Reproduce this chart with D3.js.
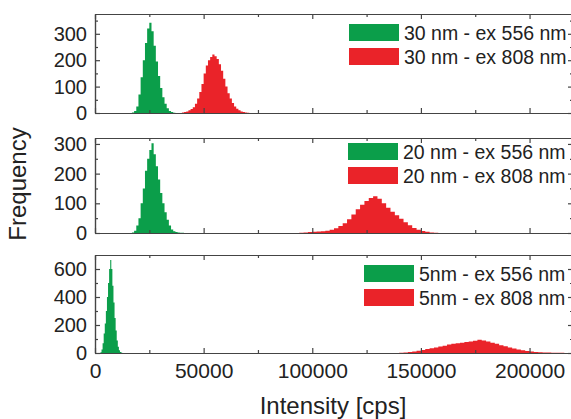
<!DOCTYPE html>
<html>
<head>
<meta charset="utf-8">
<script src="https://cdn.jsdelivr.net/npm/d3@7"></script>
<style>
body { margin: 0; background: white; }
</style>
</head>
<body>
<div id="caja"></div>
<script>
// datos: histogramas de intensidad por tamaño de particula
var tamanos = ["30 nm", "20 nm", "5nm"];
var etiquetas556 = ["30 nm - ex 556 nm", "20 nm - ex 556 nm", "5nm - ex 556 nm"];
var etiquetas808 = ["30 nm - ex 808 nm", "20 nm - ex 808 nm", "5nm - ex 808 nm"];

// inicio y ancho de bin (cps) de cada serie
var inicioVerde = [17000, 17000, 2500];
var anchoVerde = [1000, 1000, 500];
var inicioRojo = [40000, 94000, 140000];
var anchoRojo = [1000, 2000, 2000];

// frecuencias
var verde30 = [2, 8, 25, 70, 135, 200, 265, 320, 342, 310, 255, 195, 140, 95, 60, 35, 18, 8, 4, 1];
var rojo30 = [2, 4, 6, 10, 15, 22, 35, 55, 80, 110, 150, 180, 200, 212, 222, 215, 205, 185, 160, 130, 100, 75, 55, 38, 25, 16, 10, 6, 4, 2, 1];
var verde20 = [2, 8, 25, 50, 100, 150, 210, 250, 280, 302, 265, 225, 180, 135, 100, 70, 45, 25, 12, 6, 3, 2, 1, 1];
var rojo20 = [1, 2, 3, 4, 5, 6, 8, 11, 16, 24, 33, 46, 62, 80, 95, 108, 118, 124, 115, 100, 85, 72, 60, 48, 36, 26, 17, 11, 7, 4, 2, 1];
var verde5 = [5, 25, 70, 140, 210, 300, 400, 500, 600, 665, 600, 480, 360, 250, 160, 90, 45, 20, 8, 3];
var rojo5 = [2, 4, 7, 11, 16, 22, 28, 34, 40, 46, 52, 60, 66, 70, 74, 78, 82, 88, 94, 90, 82, 74, 66, 56, 48, 40, 32, 25, 19, 14, 10, 7, 5, 4, 3, 2, 2, 1];

var seriesVerde = [verde30, verde20, verde5];
var seriesRojo = [rojo30, rojo20, rojo5];

// ejes
var maxY = [375, 320, 700];
var ticksY = [[0, 100, 200, 300], [0, 100, 200, 300], [0, 200, 400, 600]];
var menoresY = [[50, 150, 250, 350], [50, 150, 250], [100, 300, 500]];
var ticksX = [0, 50000, 100000, 150000, 200000];
var menoresX = [25000, 75000, 125000, 175000];

var w = 571, h = 419;
var arriba = [14, 138, 255], abajo = [113, 233, 353];
var legY = [24, 143, 265], legX = [349, 348, 364];
var verde = "#0b9e4a", rojo = "#ea2329", gris = "#444";

var chart = d3.select('#caja')
	.append('svg')
	.attr('width', w)
	.attr('height', h)
	.style("background", "white");

var x = d3.scaleLinear().domain([0, 220000]).range([95, 573]);

// convierte frecuencias en puntos escalon
function puntos(inicio, ancho, cuentas) {
	var p = cuentas.map(function(c, j) {
		return {"v": inicio + j * ancho, "f": c};
	});
	p.push({"v": inicio + cuentas.length * ancho, "f": 0});
	return p;
}

tamanos.forEach(function(t, i) {
	var y = d3.scaleLinear().domain([0, maxY[i]]).range([abajo[i], arriba[i]]);
	var g = chart.append("g").attr("class", "panel");

	var area = d3.area()
		.x(function(d) { return x(d.v); })
		.y0(y(0))
		.y1(function(d) { return y(d.f); })
		.curve(d3.curveStepAfter);

	g.append("path")
		.datum(puntos(inicioVerde[i], anchoVerde[i], seriesVerde[i]))
		.attr("d", area)
		.attr("fill", verde);
	g.append("path")
		.datum(puntos(inicioRojo[i], anchoRojo[i], seriesRojo[i]))
		.attr("d", area)
		.attr("fill", rojo);

	// marco con marcas hacia dentro
	var abajoEje = g.append("g").attr("transform", "translate(0," + abajo[i] + ")")
		.call(d3.axisBottom(x).tickValues(ticksX).tickSize(-5).tickSizeOuter(0).tickPadding(10)
			.tickFormat(i == 2 ? d3.format("d") : ""));
	g.append("g").attr("transform", "translate(0," + abajo[i] + ")")
		.call(d3.axisBottom(x).tickValues(menoresX).tickSize(-3).tickSizeOuter(0).tickFormat(""));
	g.append("g").attr("transform", "translate(0," + arriba[i] + ")")
		.call(d3.axisTop(x).tickValues(ticksX).tickSize(-5).tickSizeOuter(0).tickFormat(""));
	g.append("g").attr("transform", "translate(0," + arriba[i] + ")")
		.call(d3.axisTop(x).tickValues(menoresX).tickSize(-3).tickSizeOuter(0).tickFormat(""));
	var izq = g.append("g").attr("transform", "translate(" + x(0) + ",0)")
		.call(d3.axisLeft(y).tickValues(ticksY[i]).tickSize(-5).tickSizeOuter(0).tickPadding(8));
	g.append("g").attr("transform", "translate(" + x(0) + ",0)")
		.call(d3.axisLeft(y).tickValues(menoresY[i]).tickSize(-3).tickSizeOuter(0).tickFormat(""));
	g.append("g").attr("transform", "translate(573,0)")
		.call(d3.axisRight(y).tickValues(ticksY[i]).tickSize(-5).tickSizeOuter(0).tickFormat(""));
	g.append("g").attr("transform", "translate(573,0)")
		.call(d3.axisRight(y).tickValues(menoresY[i]).tickSize(-3).tickSizeOuter(0).tickFormat(""));

	izq.selectAll("text").attr("font-size", "20px");
	abajoEje.selectAll("text").attr("font-size", "21px");

	// leyenda
	g.append("rect").attr("x", legX[i]).attr("y", legY[i]).attr("width", 50).attr("height", 17).attr("fill", verde);
	g.append("rect").attr("x", legX[i]).attr("y", legY[i] + 24).attr("width", 50).attr("height", 17).attr("fill", rojo);
	g.append("text").text(etiquetas556[i])
		.attr("x", legX[i] + 55).attr("y", legY[i] + 15.5)
		.attr("font-size", "19.5px").attr("fill", "#222");
	g.append("text").text(etiquetas808[i])
		.attr("x", legX[i] + 55).attr("y", legY[i] + 39.5)
		.attr("font-size", "19.5px").attr("fill", "#222");
});

chart.selectAll(".domain, .tick line").attr("stroke", gris).attr("stroke-width", 1.2);
chart.selectAll("text").attr("font-family", "Liberation Sans, Arial, sans-serif");
chart.selectAll(".tick text").attr("fill", "#222");

// titulos de ejes
chart.append("text")
	.text("Intensity [cps]")
	.attr("x", 333)
	.attr("y", 414)
	.attr("text-anchor", "middle")
	.attr("font-family", "Liberation Sans, Arial, sans-serif")
	.attr("font-size", "24px")
	.attr("fill", "#222");

chart.append("text")
	.text("Frequency")
	.attr("transform", "translate(26,184) rotate(-90)")
	.attr("text-anchor", "middle")
	.attr("font-family", "Liberation Sans, Arial, sans-serif")
	.attr("font-size", "24px")
	.attr("fill", "#222");
</script>
</body>
</html>
